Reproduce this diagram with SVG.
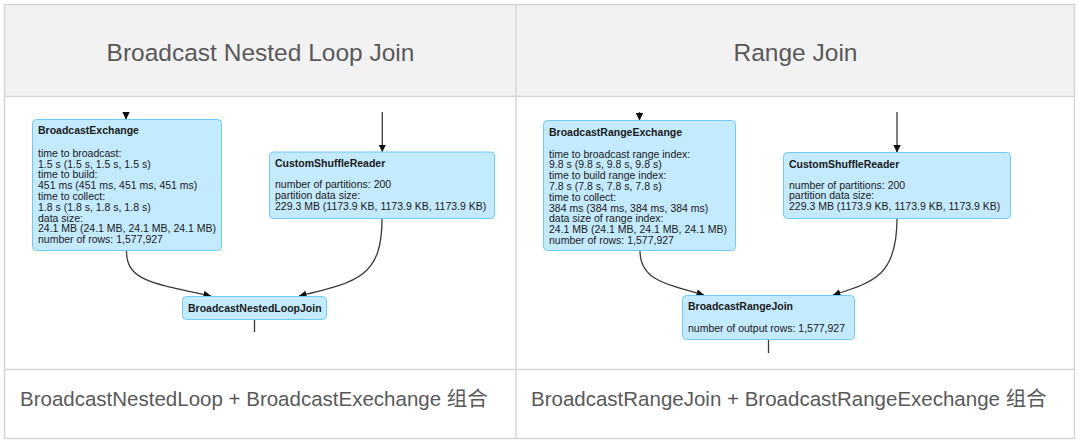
<svg xmlns="http://www.w3.org/2000/svg" width="1080" height="445" viewBox="0 0 1080 445">
<style>
.cell{fill:none;stroke:#d6d6d6;stroke-width:1.5}
.hdr{font-family:"Liberation Sans",Arial,sans-serif;font-size:24.5px;fill:#595959;text-anchor:middle}
.ftr{font-family:"Liberation Sans",Arial,"Noto Sans CJK SC",sans-serif;font-size:20.5px;fill:#595959}
.node rect{fill:#c3eafd;stroke:#6fcbf6;stroke-width:1}
.node text{font-family:"Liberation Sans",Arial,sans-serif;font-size:10.5px;fill:#1a1a1a}
.node .t{font-weight:bold}
.edge{fill:none;stroke:#3a3a3a;stroke-width:1.3}
</style>
<defs>
<marker id="ah" viewBox="0 0 10 10" refX="10" refY="5" markerWidth="7.5" markerHeight="7.5" markerUnits="userSpaceOnUse" orient="auto"><path d="M0,0 L10,5 L0,10 z" fill="#111"/></marker>
</defs>
<rect x="0" y="0" width="1080" height="445" fill="#ffffff"/>
<g id="table">
<rect x="4.5" y="4.5" width="1070" height="92" fill="#f2f2f2"/>
<rect class="cell" x="4.5" y="4.5" width="1070" height="434"/>
<line class="cell" x1="4.5" y1="96.5" x2="1074.5" y2="96.5"/>
<line class="cell" x1="4.5" y1="369.5" x2="1074.5" y2="369.5"/>
<line class="cell" x1="516" y1="4.5" x2="516" y2="438.5"/>
<text class="hdr" x="260.5" y="61">Broadcast Nested Loop Join</text>
<text class="hdr" x="795.5" y="61">Range Join</text>
<text class="ftr" x="20" y="405.5">BroadcastNestedLoop + BroadcastExechange 组合</text>
<text class="ftr" x="531" y="405.5">BroadcastRangeJoin + BroadcastRangeExechange 组合</text>
</g>
<g id="connectors">
<path class="edge" d="M126,112 L126,119.5" marker-end="url(#ah)"/>
<path class="edge" d="M382.3,112 L382.3,152" marker-end="url(#ah)"/>
<path class="edge" d="M126.5,251 C126.5,280 150,283 211,296" marker-end="url(#ah)"/>
<path class="edge" d="M382,218.5 C382,275 360,282 299,296" marker-end="url(#ah)"/>
<path class="edge" d="M254.5,319.5 L254.5,332"/>
<path class="edge" d="M639.5,112 L639.5,120.5" marker-end="url(#ah)"/>
<path class="edge" d="M897,112 L897,152.5" marker-end="url(#ah)"/>
<path class="edge" d="M640,250.5 C640,278 660,283 704,295" marker-end="url(#ah)"/>
<path class="edge" d="M897,218.5 C897,275 875,282 833,295" marker-end="url(#ah)"/>
<path class="edge" d="M768.5,339.5 L768.5,353"/>
</g>
<g id="BroadcastExchange" class="node">
<rect x="32.5" y="119.5" width="189" height="131" rx="4"/>
<text x="38" y="134"><tspan class="t">BroadcastExchange</tspan><tspan x="38" y="156.7">time to broadcast:</tspan><tspan x="38" dy="10.8">1.5 s (1.5 s, 1.5 s, 1.5 s)</tspan><tspan x="38" dy="10.8">time to build:</tspan><tspan x="38" dy="10.8">451 ms (451 ms, 451 ms, 451 ms)</tspan><tspan x="38" dy="10.8">time to collect:</tspan><tspan x="38" dy="10.8">1.8 s (1.8 s, 1.8 s, 1.8 s)</tspan><tspan x="38" dy="10.8">data size:</tspan><tspan x="38" dy="10.8">24.1 MB (24.1 MB, 24.1 MB, 24.1 MB)</tspan><tspan x="38" dy="10.8">number of rows: 1,577,927</tspan></text>
</g>
<g id="CustomShuffleReader1" class="node">
<rect x="269.5" y="152" width="225" height="66.5" rx="4"/>
<text x="275" y="167.3"><tspan class="t">CustomShuffleReader</tspan><tspan x="275" y="188.3">number of partitions: 200</tspan><tspan x="275" dy="10.8">partition data size:</tspan><tspan x="275" dy="10.8">229.3 MB (1173.9 KB, 1173.9 KB, 1173.9 KB)</tspan></text>
</g>
<g id="BroadcastNestedLoopJoin" class="node">
<rect x="182.5" y="296.5" width="144" height="23" rx="4"/>
<text x="188" y="311.7" class="t">BroadcastNestedLoopJoin</text>
</g>
<g id="BroadcastRangeExchange" class="node">
<rect x="543.5" y="120.5" width="192" height="130" rx="4"/>
<text x="549" y="135.5"><tspan class="t">BroadcastRangeExchange</tspan><tspan x="549" y="157.5">time to broadcast range index:</tspan><tspan x="549" dy="10.8">9.8 s (9.8 s, 9.8 s, 9.8 s)</tspan><tspan x="549" dy="10.8">time to build range index:</tspan><tspan x="549" dy="10.8">7.8 s (7.8 s, 7.8 s, 7.8 s)</tspan><tspan x="549" dy="10.8">time to collect:</tspan><tspan x="549" dy="10.8">384 ms (384 ms, 384 ms, 384 ms)</tspan><tspan x="549" dy="10.8">data size of range index:</tspan><tspan x="549" dy="10.8">24.1 MB (24.1 MB, 24.1 MB, 24.1 MB)</tspan><tspan x="549" dy="10.8">number of rows: 1,577,927</tspan></text>
</g>
<g id="CustomShuffleReader2" class="node">
<rect x="783.5" y="152.5" width="227" height="66" rx="4"/>
<text x="789" y="167.7"><tspan class="t">CustomShuffleReader</tspan><tspan x="789" y="188.5">number of partitions: 200</tspan><tspan x="789" dy="10.8">partition data size:</tspan><tspan x="789" dy="10.8">229.3 MB (1173.9 KB, 1173.9 KB, 1173.9 KB)</tspan></text>
</g>
<g id="BroadcastRangeJoin" class="node">
<rect x="682.5" y="295.5" width="172" height="44" rx="4"/>
<text x="688" y="310"><tspan class="t">BroadcastRangeJoin</tspan><tspan x="688" y="332">number of output rows: 1,577,927</tspan></text>
</g>
</svg>
